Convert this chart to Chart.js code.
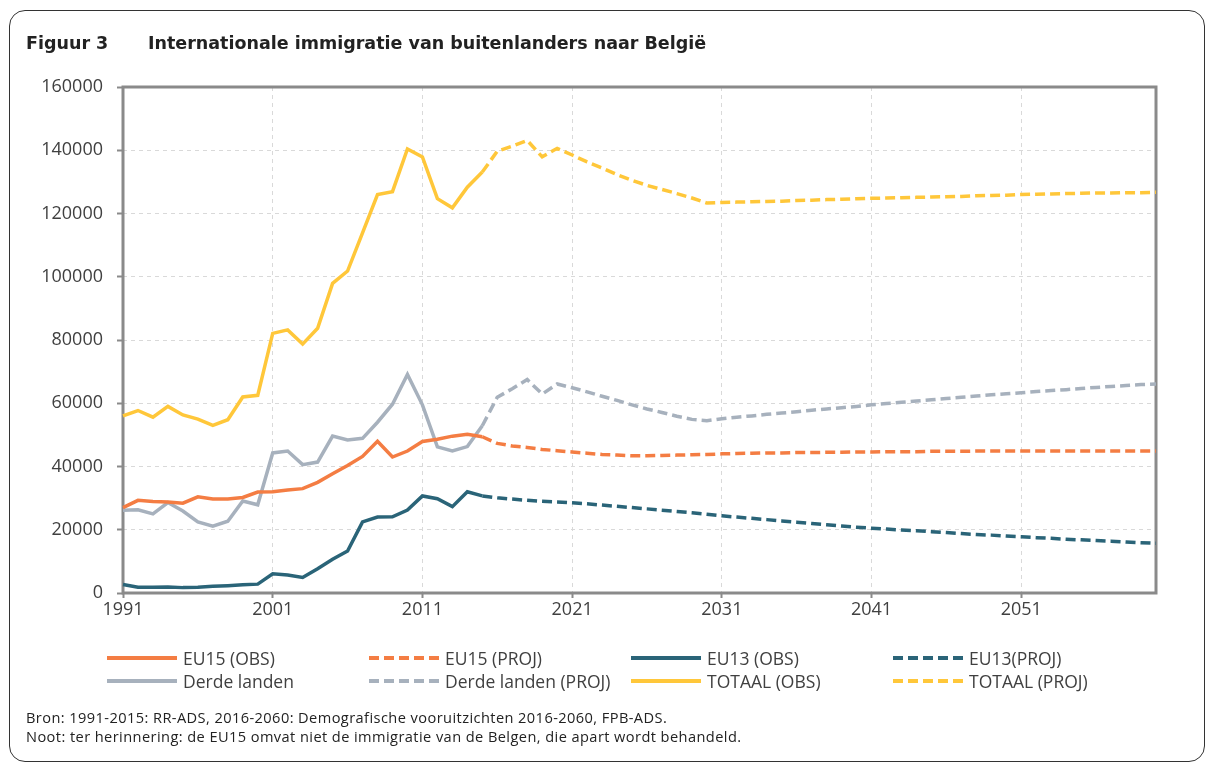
<!DOCTYPE html>
<html>
<head>
<meta charset="utf-8">
<script src="https://cdn.jsdelivr.net/npm/chart.js@4.4.0/dist/chart.umd.min.js"></script>
<style>
  html, body { margin: 0; padding: 0; background: #fff; }
  body { width: 1209px; height: 763px; position: relative; overflow: hidden; font-family: "Open Sans", sans-serif; color: #404040; }
  #frame { position: absolute; left: 9px; top: 10px; width: 1196px; height: 752px; border: 1px solid #333; border-radius: 16px; box-sizing: border-box; }
  #wrap { position: absolute; left: 0; top: 0; width: 1209px; height: 763px; }
  #title { position: absolute; left: 26px; top: 33px; font-family: "DejaVu Sans", sans-serif; font-weight: bold; font-size: 17.5px; color: #222; white-space: nowrap; }
  #title .num { display: inline-block; width: 122px; }
  #legend { position: absolute; left: 107px; top: 647px; display: grid; grid-template-columns: 262px 262px 262px 262px; row-gap: 1px; }
  .item { display: flex; align-items: center; height: 22px; font-size: 17.5px; color: #404040; white-space: nowrap; }
  .item svg { margin-right: 6px; }
  #notes { position: absolute; left: 26px; top: 708px; font-size: 14.6px; line-height: 19px; letter-spacing: 0.42px; color: #222; }
</style>
</head>
<body>
<div id="frame"></div>
<div id="wrap"><canvas id="myChart" width="1209" height="763"></canvas></div>
<div id="title"><span class="num">Figuur 3</span>Internationale immigratie van buitenlanders naar België</div>
<div id="legend"></div>
<div id="notes">Bron: 1991-2015: RR-ADS, 2016-2060: Demografische vooruitzichten 2016-2060, FPB-ADS.<br>Noot: ter herinnering: de EU15 omvat niet de immigratie van de Belgen, die apart wordt behandeld.</div>
<script>
// jaren 1991-2060
const years = Array.from({ length: 70 }, (_, i) => 1991 + i);
const yTicks = [0, 20000, 40000, 60000, 80000, 100000, 120000, 140000, 160000];

// waargenomen 1991-2015
const eu15Obs = [27000, 29300, 28900, 28800, 28400, 30400, 29700, 29700, 30200, 31900,
  32000, 32600, 33000, 35000, 37700, 40300, 43200, 48000, 43000, 44900,
  47900, 48600, 49600, 50200, 49400];
const eu13Obs = [2700, 1800, 1800, 1900, 1700, 1800, 2100, 2300, 2600, 2800,
  6100, 5700, 4900, 7700, 10700, 13300, 22500, 24000, 24100, 26200,
  30700, 29800, 27300, 32000, 30700];
const derdeObs = [26200, 26300, 25000, 28600, 25900, 22500, 21100, 22700, 29100, 27900,
  44300, 44900, 40600, 41400, 49600, 48400, 48900, 54000, 59700, 69100,
  59500, 46200, 44900, 46300, 52900];
const totaalObs = [56000, 57700, 55600, 59000, 56300, 55000, 53000, 54800, 62000, 62500,
  82100, 83200, 78700, 83700, 97900, 101800, 113900, 126000, 126900, 140400,
  137900, 124700, 121800, 128300, 133100];

// projecties 2015-2060
const eu15Proj = [49400, 47300, 46500, 46000, 45400, 45000, 44600, 44200, 43800, 43600,
  43400, 43400, 43500, 43600, 43700, 43800, 44000, 44100, 44200, 44300,
  44300, 44400, 44400, 44500, 44500, 44600, 44600, 44700, 44700, 44700,
  44800, 44800, 44800, 44900, 44900, 44900, 44900, 44900, 44900, 44900,
  44900, 44900, 44900, 44900, 44900, 44900];
const eu13Proj = [30700, 30100, 29700, 29300, 29000, 28800, 28500, 28200, 27800, 27400,
  27000, 26600, 26200, 25800, 25400, 24900, 24400, 24000, 23600, 23200,
  22800, 22400, 22000, 21600, 21200, 20800, 20500, 20200, 19900, 19700,
  19400, 19100, 18800, 18500, 18300, 18000, 17800, 17500, 17300, 17000,
  16800, 16600, 16400, 16100, 15900, 15700];
const derdeProj = [52900, 61900, 64600, 67500, 62900, 66100, 64900, 63600, 62200, 60900,
  59500, 58200, 57100, 55900, 54900, 54500, 55100, 55600, 56000, 56500,
  56900, 57300, 57800, 58200, 58600, 59000, 59500, 59900, 60300, 60700,
  61100, 61500, 61900, 62300, 62700, 63000, 63300, 63700, 64000, 64300,
  64700, 65000, 65300, 65600, 65900, 66100];
const totaalProj = [133100, 139700, 141300, 143100, 137900, 140600, 138500, 136300, 134400, 132300,
  130500, 128900, 127600, 126300, 124900, 123300, 123500, 123600, 123700, 123800,
  123900, 124100, 124200, 124400, 124500, 124700, 124800, 124900, 125000, 125100,
  125200, 125300, 125400, 125600, 125700, 125800, 126000, 126100, 126200, 126300,
  126400, 126500, 126500, 126600, 126600, 126700];

const colors = { eu15: '#f47d43', eu13: '#2a6478', derde: '#a7b1bd', totaal: '#ffc73a' };
const dash = [10, 5];

const projStart = years.indexOf(2015);
const padProj = arr => Array(projStart).fill(null).concat(arr);

function line(label, data, color, dashed) {
  return {
    label: label, data: data, borderColor: color, backgroundColor: color,
    borderWidth: 3.5, borderDash: dashed ? dash : [], pointRadius: 0, tension: 0,
    spanGaps: false, fill: false
  };
}

const frame = {
  id: 'frame',
  beforeDatasetsDraw(chart) {
    const a = chart.chartArea, c = chart.ctx;
    c.save();
    c.setLineDash([]);
    c.strokeStyle = '#8a8a8a';
    c.lineWidth = 3;
    c.strokeRect(a.left, a.top, a.right - a.left, a.bottom - a.top);
    c.restore();
  }
};

const ctx = document.getElementById('myChart');
const chart = new Chart(ctx, {
  type: 'line',
  data: {
    labels: years,
    datasets: [
      line('EU15 (OBS)', eu15Obs, colors.eu15, false),
      line('EU15 (PROJ)', padProj(eu15Proj), colors.eu15, true),
      line('EU13 (OBS)', eu13Obs, colors.eu13, false),
      line('EU13(PROJ)', padProj(eu13Proj), colors.eu13, true),
      line('Derde landen', derdeObs, colors.derde, false),
      line('Derde landen (PROJ)', padProj(derdeProj), colors.derde, true),
      line('TOTAAL (OBS)', totaalObs, colors.totaal, false),
      line('TOTAAL (PROJ)', padProj(totaalProj), colors.totaal, true)
    ]
  },
  options: {
    responsive: false,
    animation: false,
    layout: { padding: { left: 23, top: 87, right: 53, bottom: 130 } },
    plugins: { legend: { display: false }, tooltip: { enabled: false } },
    scales: {
      x: {
        type: 'category',
        afterFit: s => { s.height = 40; },
        border: { display: false, dash: [4, 4] },
        grid: {
          color: c => c.index % 10 === 0 ? '#d9d9d9' : 'rgba(0,0,0,0)',
          tickColor: c => c.index % 10 === 0 ? '#8a8a8a' : 'rgba(0,0,0,0)',
          tickWidth: 2, tickLength: 5, lineWidth: 1
        },
        ticks: {
          autoSkip: false, maxRotation: 0, minRotation: 0, padding: 1,
          color: '#404040', font: { family: 'Open Sans', size: 18 },
          callback: (v, i) => i % 10 === 0 ? String(years[i]) : ''
        }
      },
      y: {
        min: 0, max: 160000,
        afterFit: s => { s.width = 100; },
        afterBuildTicks: s => { s.ticks = yTicks.map(v => ({ value: v })); },
        border: { display: false, dash: [4, 4] },
        grid: { color: '#d9d9d9', tickColor: '#8a8a8a', tickWidth: 2, tickLength: 6, lineWidth: 1 },
        ticks: {
          padding: 14, color: '#404040', font: { family: 'Open Sans', size: 18 },
          callback: v => String(v)
        }
      }
    }
  },
  plugins: [frame]
});

// legenda uit de datasets
const legend = document.getElementById('legend');
chart.data.datasets.forEach(ds => {
  const d = document.createElement('div');
  d.className = 'item';
  const da = ds.borderDash.length ? ' stroke-dasharray="' + ds.borderDash.join(',') + '"' : '';
  d.innerHTML = '<svg width="70" height="6"><line x1="0" y1="3" x2="70" y2="3" stroke="' + ds.borderColor +
    '" stroke-width="4"' + da + '/></svg><span>' + ds.label + '</span>';
  legend.appendChild(d);
});
</script>
</body>
</html>
